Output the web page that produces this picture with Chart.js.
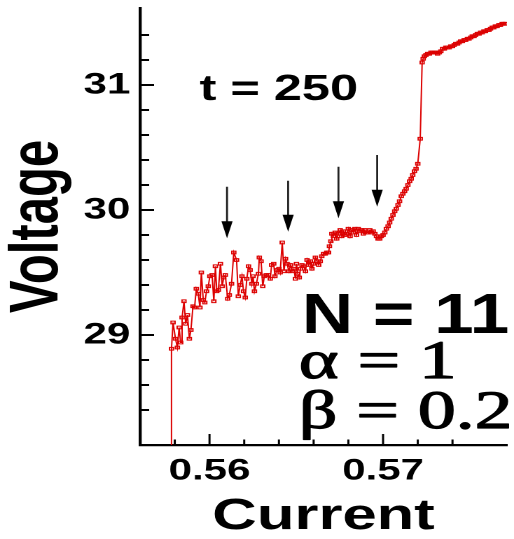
<!DOCTYPE html>
<html>
<head>
<meta charset="utf-8">
<script src="https://cdn.jsdelivr.net/npm/chart.js@4/dist/chart.umd.min.js"></script>
<style>
  html, body { margin: 0; padding: 0; background: #fff; overflow: hidden; }
  /* the original figure is stretched sideways, so the whole canvas is too */
  #wrap { position: absolute; left: 0; top: 0; width: 367px; height: 539px;
          transform: scaleX(1.40054); transform-origin: 0 0; }
</style>
</head>
<body>
<div id="wrap"><canvas id="chart" width="367" height="539"></canvas></div>
<script>
// Current (x) and voltage (y) samples
const currents = [
  0.55781, 0.55781, 0.55790, 0.55804, 0.55815, 0.55825, 0.55834, 0.55842, 0.55853, 0.55863,
  0.55873, 0.55884, 0.55893, 0.55905, 0.55914, 0.55924, 0.55935, 0.55945, 0.55953, 0.55964,
  0.55973, 0.55983, 0.55993, 0.56002, 0.56015, 0.56025, 0.56034, 0.56042, 0.56051, 0.56063,
  0.56073, 0.56082, 0.56091, 0.56105, 0.56114, 0.56127, 0.56140, 0.56156, 0.56166, 0.56177,
  0.56187, 0.56196, 0.56206, 0.56215, 0.56225, 0.56234, 0.56244, 0.56251, 0.56259, 0.56270,
  0.56282, 0.56287, 0.56297, 0.56307, 0.56316, 0.56327, 0.56339, 0.56350, 0.56358, 0.56370,
  0.56377, 0.56389, 0.56400, 0.56407, 0.56419, 0.56429, 0.56438, 0.56447, 0.56457, 0.56467,
  0.56476, 0.56486, 0.56495, 0.56501, 0.56509, 0.56517, 0.56524, 0.56533, 0.56543, 0.56553,
  0.56562, 0.56571, 0.56581, 0.56590, 0.56600, 0.56610, 0.56619, 0.56629, 0.56638, 0.56647,
  0.56657, 0.56667, 0.56676, 0.56686, 0.56691, 0.56699, 0.56705, 0.56714, 0.56724, 0.56733,
  0.56743, 0.56753, 0.56762, 0.56771, 0.56781, 0.56790, 0.56800, 0.56810, 0.56819, 0.56829,
  0.56838, 0.56847, 0.56857, 0.56867, 0.56876, 0.56886, 0.56895, 0.56905, 0.56914, 0.56924,
  0.56933, 0.56943, 0.56953, 0.56962, 0.56971, 0.56981, 0.56990, 0.57000, 0.57010, 0.57019,
  0.57029, 0.57038, 0.57047, 0.57057, 0.57067, 0.57076, 0.57086, 0.57095, 0.57105, 0.57114,
  0.57124, 0.57133, 0.57143, 0.57153, 0.57162, 0.57171, 0.57181, 0.57190, 0.57200, 0.57214,
  0.57225, 0.57231, 0.57238, 0.57247, 0.57257, 0.57267, 0.57276, 0.57286, 0.57295, 0.57305,
  0.57314, 0.57324, 0.57333, 0.57343, 0.57353, 0.57362, 0.57371, 0.57381, 0.57390, 0.57400,
  0.57410, 0.57419, 0.57429, 0.57438, 0.57447, 0.57457, 0.57467, 0.57476, 0.57486, 0.57495,
  0.57505, 0.57514, 0.57524, 0.57533, 0.57543, 0.57553, 0.57562, 0.57571, 0.57581, 0.57590,
  0.57600, 0.57610, 0.57619, 0.57629, 0.57638, 0.57647, 0.57657, 0.57667, 0.57676, 0.57686,
  0.57695, 0.57705
];
const voltages = [
  27.00, 28.89, 29.10, 28.97, 28.90, 29.06, 28.94, 29.14, 29.27, 29.09,
  29.16, 28.97, 29.04, 29.23, 29.22, 29.37, 29.33, 29.22, 29.50, 29.28,
  29.26, 29.35, 29.39, 29.47, 29.48, 29.27, 29.55, 29.35, 29.36, 29.57,
  29.39, 29.46, 29.48, 29.29, 29.32, 29.41, 29.66, 29.60, 29.31, 29.40,
  29.47, 29.35, 29.30, 29.45, 29.55, 29.52, 29.41, 29.47, 29.35, 29.41,
  29.49, 29.62, 29.59, 29.39, 29.47, 29.48, 29.48, 29.45, 29.56, 29.57,
  29.47, 29.52, 29.53, 29.50, 29.74, 29.51, 29.61, 29.57, 29.51, 29.56,
  29.51, 29.53, 29.45, 29.57, 29.49, 29.46, 29.53, 29.56, 29.55, 29.51,
  29.60, 29.56, 29.59, 29.53, 29.57, 29.62, 29.59, 29.56, 29.59, 29.63,
  29.65, 29.65, 29.66, 29.66, 29.71, 29.75, 29.81, 29.79, 29.82, 29.77,
  29.81, 29.84, 29.79, 29.83, 29.80, 29.81, 29.85, 29.79, 29.84, 29.82,
  29.85, 29.80, 29.85, 29.83, 29.84, 29.81, 29.84, 29.82, 29.82, 29.84,
  29.82, 29.83, 29.81, 29.79, 29.77, 29.77, 29.79, 29.80, 29.82, 29.85,
  29.87, 29.90, 29.93, 29.96, 29.99, 30.01, 30.04, 30.07, 30.11, 30.13,
  30.15, 30.17, 30.20, 30.23, 30.25, 30.28, 30.31, 30.33, 30.37, 30.57,
  31.18, 31.21, 31.23, 31.24, 31.25, 31.25, 31.26, 31.26, 31.26, 31.26,
  31.25, 31.26, 31.27, 31.29, 31.29, 31.30, 31.30, 31.30, 31.31, 31.31,
  31.32, 31.33, 31.33, 31.34, 31.35, 31.35, 31.36, 31.36, 31.37, 31.37,
  31.38, 31.39, 31.39, 31.40, 31.41, 31.41, 31.42, 31.42, 31.43, 31.43,
  31.44, 31.44, 31.45, 31.46, 31.46, 31.47, 31.47, 31.48, 31.48, 31.49,
  31.49, 31.49
];

// Axis ranges and tick spacing
const xRange = [0.556, 0.57714];
const yRange = [28.12, 31.616];
const xStep = 0.002, xMajor = 0.01;
const yStep = 0.2, yMajor = 1;

// Arrows (current, tail voltage, tip voltage) and text labels
const arrows = [
  [0.56101, 30.186, 29.774],
  [0.56453, 30.234, 29.826],
  [0.56743, 30.346, 29.934],
  [0.56966, 30.440, 30.026]
];
const notes = [
  { text: 't = 250', x: 0.55943, y: 30.88, font: 'bold 36px "Liberation Sans", Arial, sans-serif', sx: 1, stroke: 0 },
  { text: 'N = 11', x: 0.56532, y: 29.016, font: 'bold 57px "Liberation Sans", Arial, sans-serif', sx: 0.89, stroke: 0 },
  { text: 'α = 1', x: 0.56515, y: 28.656, font: '54px "Liberation Serif", "Times New Roman", serif', sx: 1, stroke: 1.2 },
  { text: 'β = 0.2', x: 0.56515, y: 28.256, font: '54px "Liberation Serif", "Times New Roman", serif', sx: 1, stroke: 1.2 }
];

const red = 'rgb(220, 0, 0)';

function isMultiple(v, step) {
  return Math.abs(v / step - Math.round(v / step)) < 1e-6;
}

// Inward ticks, arrows and the text notes
const decorations = {
  id: 'decorations',
  afterDraw(chart) {
    const ctx = chart.ctx;
    const xs = chart.scales.x, ys = chart.scales.y, area = chart.chartArea;
    ctx.save();
    ctx.strokeStyle = '#000';

    ctx.lineWidth = 1.5;
    xs.ticks.forEach(t => {
      if (!isMultiple(t.value, xStep)) return;
      const px = xs.getPixelForValue(t.value);
      const len = isMultiple(t.value, xMajor) ? 11 : 5.5;
      ctx.beginPath();
      ctx.moveTo(px, area.bottom);
      ctx.lineTo(px, area.bottom - len);
      ctx.stroke();
    });

    ctx.lineWidth = 2;
    ys.ticks.forEach(t => {
      if (!isMultiple(t.value, yStep)) return;
      const py = ys.getPixelForValue(t.value);
      const len = isMultiple(t.value, yMajor) ? 10 : 6.5;
      ctx.beginPath();
      ctx.moveTo(area.left, py);
      ctx.lineTo(area.left + len, py);
      ctx.stroke();
    });

    arrows.forEach(([c, from, to]) => {
      const px = xs.getPixelForValue(c);
      const y0 = ys.getPixelForValue(from);
      const y1 = ys.getPixelForValue(to);
      const head = 17;
      ctx.strokeStyle = '#222';
      ctx.lineWidth = 1.4;
      ctx.beginPath();
      ctx.moveTo(px, y0);
      ctx.lineTo(px, y1 - head + 1);
      ctx.stroke();
      ctx.fillStyle = '#000';
      ctx.beginPath();
      ctx.moveTo(px - 4, y1 - head);
      ctx.lineTo(px + 4, y1 - head);
      ctx.lineTo(px, y1);
      ctx.closePath();
      ctx.fill();
    });

    ctx.fillStyle = '#000';
    ctx.strokeStyle = '#000';
    ctx.lineJoin = 'round';
    ctx.textBaseline = 'alphabetic';
    ctx.textAlign = 'left';
    notes.forEach(n => {
      ctx.save();
      ctx.translate(xs.getPixelForValue(n.x), ys.getPixelForValue(n.y));
      ctx.scale(n.sx, 1);
      ctx.font = n.font;
      ctx.fillText(n.text, 0, 0);
      if (n.stroke) {
        ctx.lineWidth = n.stroke;
        ctx.strokeText(n.text, 0, 0);
      }
      ctx.restore();
    });
    ctx.restore();
  }
};

const points = currents.map((c, i) => ({ x: c, y: voltages[i] }));

new Chart(document.getElementById('chart'), {
  type: 'line',
  data: {
    datasets: [{
      data: points,
      borderColor: red,
      borderWidth: 1,
      pointStyle: 'rect',
      pointRadius: 2,
      pointBorderWidth: 1,
      pointBorderColor: red,
      pointBackgroundColor: 'rgba(255,255,255,0)',
      tension: 0
    }]
  },
  options: {
    responsive: false,
    devicePixelRatio: 2,
    animation: false,
    layout: { padding: { top: 8, right: 3, left: 0, bottom: 0 } },
    plugins: {
      legend: { display: false },
      tooltip: { enabled: false }
    },
    scales: {
      x: {
        type: 'linear',
        min: xRange[0],
        max: xRange[1],
        afterFit: scale => {
          scale.height = 94;
          scale.paddingLeft = 0;
          scale.paddingRight = 0;
        },
        grid: { display: false, drawTicks: false },
        border: { display: true, color: '#000', width: 2.2 },
        ticks: {
          stepSize: xStep,
          autoSkip: false,
          maxRotation: 0,
          padding: 8,
          color: '#000',
          font: { family: '"Liberation Sans", Arial, sans-serif', size: 30, weight: 'bold' },
          callback: v => isMultiple(v, xMajor) ? v.toFixed(2) : ''
        },
        title: {
          display: true,
          text: 'Current',
          color: '#000',
          padding: 0,
          font: { family: '"Liberation Sans", Arial, sans-serif', size: 44, weight: 'bold', lineHeight: 1.0 }
        }
      },
      y: {
        min: yRange[0],
        max: yRange[1],
        afterFit: scale => {
          scale.width = 100;
          scale.paddingTop = 0;
          scale.paddingBottom = 0;
        },
        grid: { display: false, drawTicks: false },
        border: { display: true, color: '#000', width: 2.2 },
        ticks: {
          stepSize: yStep,
          autoSkip: false,
          padding: 7,
          color: '#000',
          font: { family: '"Liberation Sans", Arial, sans-serif', size: 30, weight: 'bold' },
          callback: v => isMultiple(v, yMajor) ? String(Math.round(v)) : ''
        },
        title: {
          display: true,
          text: 'Voltage',
          color: '#000',
          padding: 0,
          font: { family: '"Liberation Sans", Arial, sans-serif', size: 49, weight: 'bold', lineHeight: 1.12 }
        }
      }
    }
  },
  plugins: [decorations]
});
</script>
</body>
</html>
